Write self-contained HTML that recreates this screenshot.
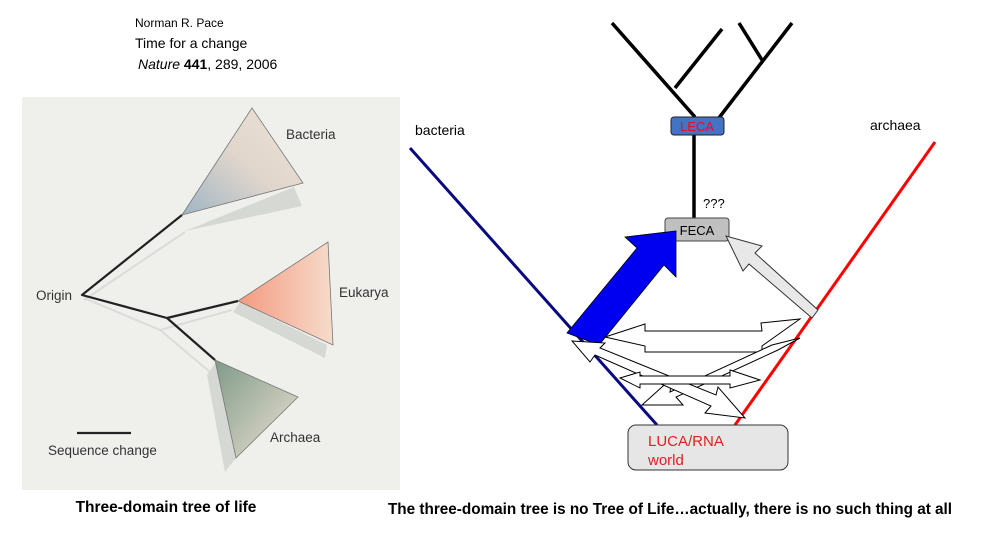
<!DOCTYPE html>
<html><head><style>body{margin:0;background:#fff}svg{display:block}</style></head><body>
<svg width="1000" height="542" viewBox="0 0 1000 542" font-family="Liberation Sans, sans-serif">
<defs>
<linearGradient id="gb" x1="0" y1="1" x2="1" y2="0"><stop offset="0" stop-color="#9fb5c4"/><stop offset="0.5" stop-color="#e0d6cc"/><stop offset="1" stop-color="#efe2d6"/></linearGradient>
<linearGradient id="ge" x1="0" y1="0" x2="1" y2="0"><stop offset="0" stop-color="#f39a80"/><stop offset="1" stop-color="#f6dccb"/></linearGradient>
<linearGradient id="ga" x1="0" y1="0" x2="1" y2="1"><stop offset="0" stop-color="#7f9a88"/><stop offset="1" stop-color="#eee2d4"/></linearGradient>
</defs>
<text x="135" y="27" font-size="12">Norman R. Pace</text>
<text x="135" y="48" font-size="14">Time for a change</text>
<text x="138" y="69" font-size="14"><tspan font-style="italic">Nature</tspan> <tspan font-weight="bold">441</tspan>, 289, 2006</text>
<rect x="22" y="97" width="378" height="393" fill="#eff0ec"/>
<g fill="#d5d8d3">
<polygon points="185,231 294,187 302,206"/>
<polygon points="233,312 325,358 327,345 240,302"/>
<polygon points="207,375 225,472 236,458 216,362"/>
</g>
<g stroke="#d9dcd7" stroke-width="2" fill="none"><polyline points="84,298 160,330 210,372"/><polyline points="160,330 232,310"/><line x1="84" y1="300" x2="185" y2="232"/></g>
<polygon points="252,108 303,183 182,215" fill="url(#gb)" stroke="#777" stroke-width="0.8"/>
<polygon points="238,301 328,242 333,345" fill="url(#ge)" stroke="#777" stroke-width="0.8"/>
<polygon points="215,360 298,397 236,458" fill="url(#ga)" stroke="#777" stroke-width="0.8"/>
<g stroke="#222" stroke-width="2.2" fill="none" stroke-linejoin="round"><polyline points="182,215 82,295 167,318 238,301"/><line x1="167" y1="318" x2="215" y2="360"/><line x1="77" y1="433" x2="131" y2="433"/></g>
<g fill="#333" font-size="13.5"><text x="286" y="139">Bacteria</text><text x="36" y="300">Origin</text><text x="339" y="297">Eukarya</text><text x="270" y="442">Archaea</text><text x="48" y="455">Sequence change</text></g>
<text x="166" y="512" font-size="15.5" font-weight="bold" text-anchor="middle">Three-domain tree of life</text>
<text x="670" y="514" font-size="15.3" font-weight="bold" text-anchor="middle">The three-domain tree is no Tree of Life…actually, there is no such thing at all</text>
<text x="415" y="135" font-size="14">bacteria</text>
<text x="870" y="130" font-size="14">archaea</text>
<line x1="410" y1="148" x2="657" y2="425" stroke="#0a0a80" stroke-width="3"/>
<line x1="935" y1="142" x2="735" y2="425" stroke="#f00" stroke-width="3"/>
<g stroke="#000" stroke-width="3.5" fill="none"><line x1="612" y1="23" x2="695" y2="117"/><line x1="675" y1="88" x2="722" y2="29"/><line x1="715" y1="123" x2="792" y2="23"/><line x1="762" y1="60" x2="739" y2="23"/><line x1="694" y1="135" x2="694" y2="218"/></g>
<rect x="671" y="117" width="53" height="18" rx="3" fill="#4472c4" stroke="#222"/>
<text x="697" y="131" font-size="13" fill="#e0102a" text-anchor="middle">LECA</text>
<text x="703" y="208" font-size="13">???</text>
<rect x="665" y="218" width="64" height="23" rx="3" fill="#c0c0c0" stroke="#444"/>
<text x="697" y="235" font-size="13" text-anchor="middle">FECA</text>
<polygon points="567,333 599,345 664,265 676,277 676,231 625,237 637,248" fill="#0000f0" stroke="#000" stroke-width="0.8"/>
<polygon points="818,310 812,318 749,264 743,271 726,236 762,246 755,253" fill="#e8e8e8" stroke="#333" stroke-width="1"/>
<g fill="#fff" stroke="#000" stroke-width="1">
<polygon points="605,337 645,324 645,331 762,331 761,323 800,319 762,346 762,352 645,352 645,346"/>
<polygon points="800,338 772,345 670,392 672,378 642,405 683,405 676,397 778,350"/>
<polygon points="572,341 605,343 600,348 716,395 718,387 745,418 705,413 711,406 595,355 590,362"/>
<polygon points="620,378 640,372 640,376 730,376 730,370 760,380 730,388 730,384 640,384 640,388"/>
</g>
<rect x="628" y="425" width="160" height="45" rx="8" fill="#e6e6e6" stroke="#333"/>
<text x="648" y="446" font-size="15" fill="#e02020">LUCA/RNA</text>
<text x="648" y="465" font-size="15" fill="#e02020">world</text>
</svg>
</body></html>
